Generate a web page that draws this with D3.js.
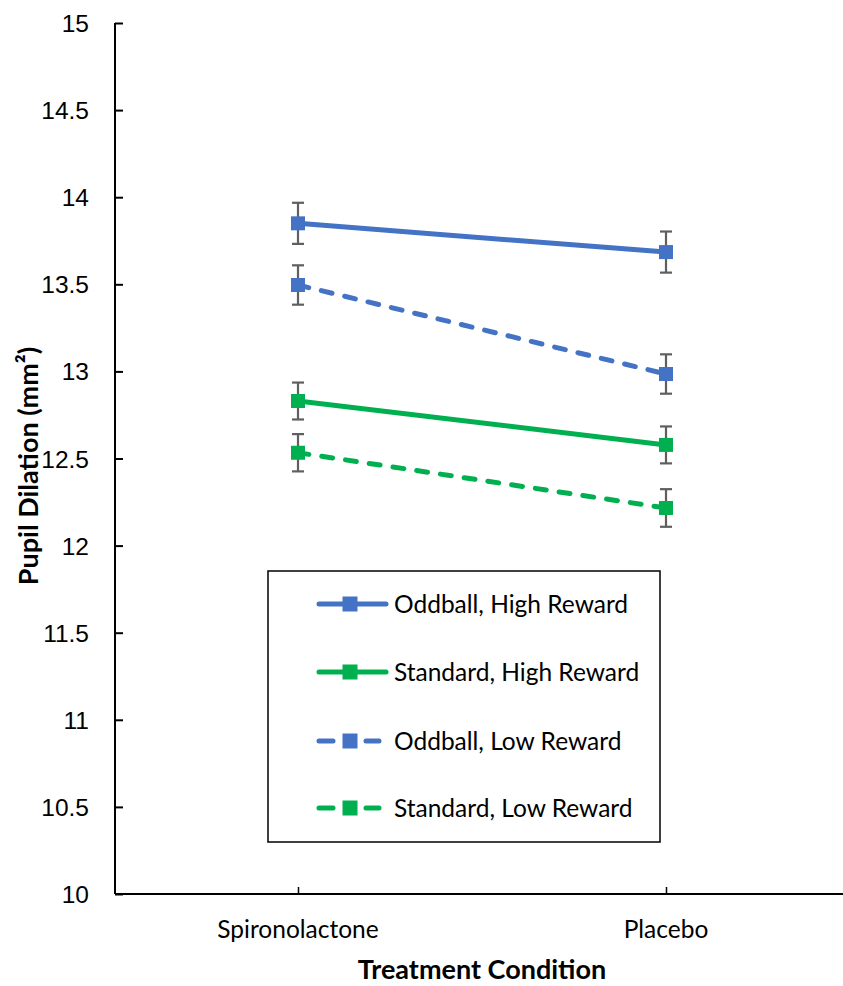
<!DOCTYPE html>
<html>
<head>
<meta charset="utf-8">
<script src="https://cdn.jsdelivr.net/npm/d3@7"></script>
<style>
  html, body { margin: 0; padding: 0; background: #fff; }
  svg { display: block; font-family: Lato, "Open Sans", sans-serif; }
</style>
</head>
<body>
<svg id="chart" width="843" height="986"></svg>
<script>
// Treatment conditions on the x axis
const conditions = ["Spironolactone", "Placebo"];

// Series names, in legend order
const seriesNames = ["Oddball, High Reward", "Standard, High Reward", "Oddball, Low Reward", "Standard, Low Reward"];

// Mean pupil dilation (mm²) per condition
const oddballHigh = [13.85, 13.685];
const standardHigh = [12.83, 12.578];
const oddballLow = [13.496, 12.985];
const standardLow = [12.533, 12.216];

// Standard error per condition
const oddballHighErr = [0.118, 0.118];
const standardHighErr = [0.106, 0.106];
const oddballLowErr = [0.113, 0.113];
const standardLowErr = [0.107, 0.108];

const yTicks = [10, 10.5, 11, 11.5, 12, 12.5, 13, 13.5, 14, 14.5, 15];

const series = [
  { name: seriesNames[0], values: oddballHigh, err: oddballHighErr, color: "#4472C4", dashed: false },
  { name: seriesNames[1], values: standardHigh, err: standardHighErr, color: "#00B050", dashed: false },
  { name: seriesNames[2], values: oddballLow, err: oddballLowErr, color: "#4472C4", dashed: true },
  { name: seriesNames[3], values: standardLow, err: standardLowErr, color: "#00B050", dashed: true }
];

const svg = d3.select("#chart");
const plotLeft = 115, plotRight = 843, plotTop = 23, plotBottom = 894;
const labelSize = 24.5, titleSize = 27;
const lineW = 5, dash = "11 13";

const x = d3.scalePoint().domain(conditions).range([298, 666]);
const y = d3.scaleLinear().domain([10, 15]).range([plotBottom, plotTop]);

// Y axis with inward ticks
const yAxis = svg.append("g").attr("transform", `translate(${plotLeft},0)`)
  .call(d3.axisRight(y).tickValues(yTicks).tickSize(8).tickFormat(d => d3.format("")(d)));
yAxis.select(".domain").attr("stroke", "#000").attr("stroke-width", 2).attr("d", `M0,${plotTop}V${plotBottom}`);
yAxis.selectAll(".tick line").attr("stroke", "#000").attr("stroke-width", 2);
yAxis.selectAll(".tick text").attr("x", -26).attr("text-anchor", "end")
  .attr("font-size", labelSize).attr("fill", "#000").attr("dy", "0.35em");

// X axis with inward ticks at the categories
const xAxis = svg.append("g").attr("transform", `translate(0,${plotBottom})`)
  .call(d3.axisTop(x).tickSize(7).tickFormat(""));
xAxis.select(".domain").attr("stroke", "#000").attr("stroke-width", 2).attr("d", `M${plotLeft},0H${plotRight}`);
xAxis.selectAll(".tick line").attr("stroke", "#000").attr("stroke-width", 1.5);

svg.append("g").selectAll("text").data(conditions).join("text")
  .attr("x", d => x(d)).attr("y", 938)
  .attr("text-anchor", "middle").attr("font-size", labelSize).attr("fill", "#000")
  .text(d => d);

// Axis titles
svg.append("text").attr("x", 482).attr("y", 979).attr("text-anchor", "middle")
  .attr("font-size", titleSize).attr("font-weight", "bold").attr("fill", "#000")
  .text("Treatment Condition");
svg.append("text").attr("transform", "translate(38,466) rotate(-90)")
  .attr("text-anchor", "middle").attr("font-size", titleSize).attr("font-weight", "bold").attr("fill", "#000")
  .text("Pupil Dilation (mm²)");

// Lines
const line = d3.line().x((d, i) => x(conditions[i])).y(d => y(d));
const plot = svg.append("g");
series.forEach(s => {
  plot.append("path").datum(s.values)
    .attr("d", line).attr("fill", "none").attr("stroke", s.color)
    .attr("stroke-width", lineW).attr("stroke-linecap", "round")
    .attr("stroke-dasharray", s.dashed ? dash : null);
});

// Error bars
const cap = 6;
series.forEach(s => {
  s.values.forEach((v, i) => {
    const cx = x(conditions[i]);
    const g = plot.append("g").attr("stroke", "#5f5f5f").attr("stroke-width", 2.2);
    g.append("line").attr("x1", cx).attr("x2", cx).attr("y1", y(v + s.err[i])).attr("y2", y(v - s.err[i]));
    g.append("line").attr("x1", cx - cap).attr("x2", cx + cap).attr("y1", y(v + s.err[i])).attr("y2", y(v + s.err[i]));
    g.append("line").attr("x1", cx - cap).attr("x2", cx + cap).attr("y1", y(v - s.err[i])).attr("y2", y(v - s.err[i]));
  });
});

// Markers
const ms = 14;
series.forEach(s => {
  plot.append("g").selectAll("rect").data(s.values).join("rect")
    .attr("x", (d, i) => x(conditions[i]) - ms / 2)
    .attr("y", d => y(d) - ms / 2)
    .attr("width", ms).attr("height", ms)
    .attr("fill", s.color);
});

// Legend
const legend = svg.append("g");
legend.append("rect").attr("x", 268).attr("y", 571).attr("width", 392).attr("height", 271)
  .attr("fill", "#fff").attr("stroke", "#000").attr("stroke-width", 1.5);
const rowY = [604, 672, 741, 808];
series.forEach((s, i) => {
  const g = legend.append("g").attr("transform", `translate(0,${rowY[i]})`);
  g.append("line").attr("x1", 319).attr("x2", s.dashed ? 379 : 386).attr("y1", 0).attr("y2", 0)
    .attr("stroke", s.color).attr("stroke-width", lineW).attr("stroke-linecap", "round")
    .attr("stroke-dasharray", s.dashed ? "14 33 14" : null);
  g.append("rect").attr("x", 350 - 7.5).attr("y", -7.5).attr("width", 15).attr("height", 15).attr("fill", s.color);
  g.append("text").attr("x", 394).attr("y", 0).attr("dy", "0.35em")
    .attr("font-size", labelSize).attr("fill", "#000").text(s.name);
});
</script>
</body>
</html>
